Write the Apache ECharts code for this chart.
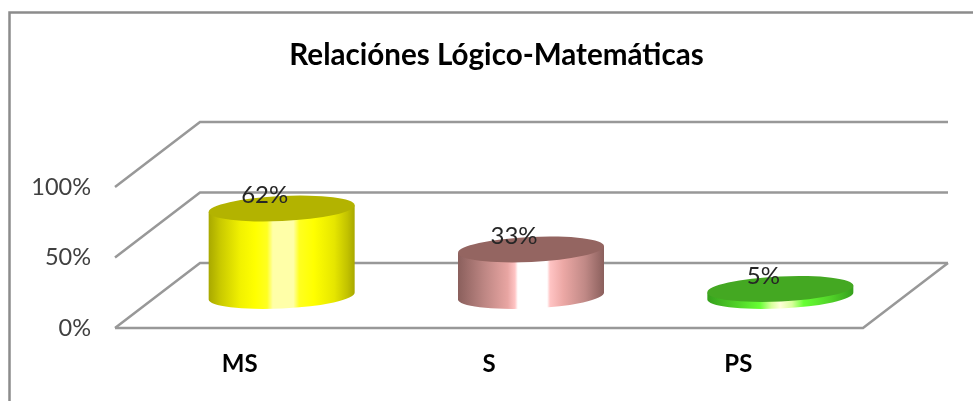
<!DOCTYPE html>
<html>
<head>
<meta charset="utf-8">
<script src="https://cdn.jsdelivr.net/npm/echarts@6/dist/echarts.min.js"></script>
<style>html,body{margin:0;padding:0;background:#fff}#c{width:973px;height:401px}</style>
</head>
<body>
<div id="c"></div>
<script>
const titleText = 'Relaciónes Lógico-Matemáticas';
const categories = ['MS', 'S', 'PS'];
const values = [62, 33, 5];
const valueTicks = [0, 50, 100];
const FONT = 'Lato, "Open Sans", sans-serif';
const topColors = ['#b3b300', '#946561', '#44a822'];
const sideStops = [
  [[0,'#a8a800'],[0.08,'#c9c900'],[0.22,'#f2f200'],[0.32,'#ffff00'],[0.4,'#ffff20'],[0.44,'#ffffa8'],[0.58,'#ffffa8'],[0.62,'#ffff20'],[0.72,'#ffff00'],[0.86,'#e6e600'],[0.95,'#c2c200'],[1,'#a8a800']],
  [[0,'#8a5f5c'],[0.18,'#bd8683'],[0.34,'#e8a5a2'],[0.39,'#ffc4c4'],[0.41,'#ffffff'],[0.61,'#ffffff'],[0.63,'#ffc4c4'],[0.72,'#eca8a5'],[0.87,'#c08986'],[1,'#8a5f5c']],
  [[0,'#35a01c'],[0.2,'#50d028'],[0.36,'#66ff33'],[0.44,'#d8ff9c'],[0.5,'#ffffd8'],[0.58,'#d8ff9c'],[0.66,'#66ff33'],[0.85,'#50d028'],[1,'#35a01c']]
];
const depthX = 85, depthY = 65, barShiftX = 42, barShiftY = 32;
const radiusX = 73, radiusY = 12.5, tiltDeg = -2.7;
const lineColor = '#989898';

const chart = echarts.init(document.getElementById('c'));

function wallItem(params, api) {
  const cs = params.coordSys;
  const v = api.value(1);
  const y = api.coord([0, v])[1];
  const l = cs.x, r = cs.x + cs.width;
  const style = { stroke: lineColor, lineWidth: 2.5, fill: null };
  const children = [{
    type: 'polyline',
    shape: { points: [[l, y], [l + depthX, y - depthY], [r + depthX, y - depthY]] },
    style: style
  }];
  if (v === 0) {
    children.push({
      type: 'polyline',
      shape: { points: [[l, y], [r, y], [r + depthX, y - depthY]] },
      style: style
    });
  }
  return { type: 'group', children: children };
}

function cylinderItem(params, api) {
  const i = params.dataIndex;
  const base = api.coord([api.value(0), 0]);
  const top = api.coord([api.value(0), api.value(1)]);
  const cx = base[0] + barShiftX;
  const yb = base[1] - barShiftY;
  const yt = top[1] - barShiftY;
  const s = radiusX * Math.tan(-tiltDeg * Math.PI / 180);
  const side =
    'M' + (cx - radiusX) + ' ' + (yt + s) +
    ' L' + (cx - radiusX) + ' ' + (yb + s) +
    ' A' + radiusX + ' ' + radiusY + ' ' + tiltDeg + ' 0 0 ' + (cx + radiusX) + ' ' + (yb - s) +
    ' L' + (cx + radiusX) + ' ' + (yt - s) + ' Z';
  const cap =
    'M' + (cx - radiusX) + ' ' + (yt + s) +
    ' A' + radiusX + ' ' + radiusY + ' ' + tiltDeg + ' 0 0 ' + (cx + radiusX) + ' ' + (yt - s) +
    ' A' + radiusX + ' ' + radiusY + ' ' + tiltDeg + ' 0 0 ' + (cx - radiusX) + ' ' + (yt + s) + ' Z';
  return {
    type: 'group',
    children: [
      {
        type: 'path',
        shape: { pathData: side },
        style: {
          fill: new echarts.graphic.LinearGradient(0, 0, 1, 0,
            sideStops[i].map(p => ({ offset: p[0], color: p[1] })))
        }
      },
      { type: 'path', shape: { pathData: cap }, style: { fill: topColors[i] } },
      {
        type: 'text',
        style: {
          text: api.value(1) + '%',
          x: cx - 17, y: yt - 13,
          align: 'center', verticalAlign: 'middle',
          font: '24px ' + FONT, fill: '#262626'
        }
      }
    ]
  };
}

chart.setOption({
  animation: false,
  backgroundColor: '#ffffff',
  title: {
    text: titleText,
    left: 491.5, top: 35, textAlign: 'center',
    textStyle: { fontFamily: FONT, fontSize: 29.6, fontWeight: 'bold', color: '#000' }
  },
  graphic: [{
    type: 'polyline',
    shape: { points: [[9.5, 401], [9.5, 12.5], [973, 12.5]] },
    style: { stroke: '#8c8c8c', lineWidth: 2.5, fill: null },
    silent: true
  }],
  grid: { left: 115, right: 110, top: 187, bottom: 73 },
  xAxis: {
    type: 'category',
    data: categories,
    axisLine: { show: false },
    axisTick: { show: false },
    splitLine: { show: false },
    axisLabel: { margin: 24, fontFamily: FONT, fontSize: 24, fontWeight: 'bold', color: '#000' }
  },
  yAxis: {
    type: 'value',
    min: 0, max: 100, interval: 50,
    axisLine: { show: false },
    axisTick: { show: false },
    splitLine: { show: false },
    axisLabel: { margin: 24, fontFamily: FONT, fontSize: 23.5, color: '#404040', padding: [3, 0, 0, 0], formatter: '{value}%' }
  },
  series: [
    {
      type: 'custom', silent: true, renderItem: wallItem, z: 1,
      encode: { x: 0, y: 1 },
      data: valueTicks.map(v => [0, v])
    },
    {
      type: 'custom', silent: true, renderItem: cylinderItem, z: 2,
      encode: { x: 0, y: 1 },
      data: values.map((v, i) => [i, v])
    }
  ]
});
</script>
</body>
</html>
